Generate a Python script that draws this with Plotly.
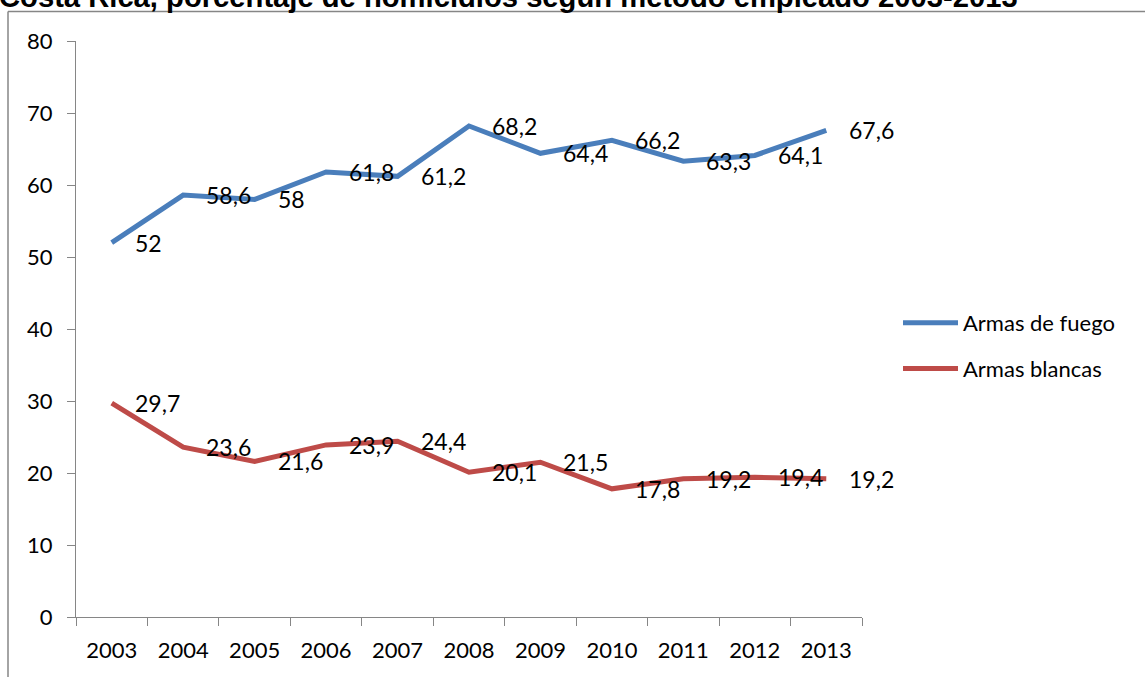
import plotly.graph_objects as go

years = ["2003", "2004", "2005", "2006", "2007", "2008", "2009", "2010", "2011", "2012", "2013"]
armas_fuego = [52, 58.6, 58, 61.8, 61.2, 68.2, 64.4, 66.2, 63.3, 64.1, 67.6]
armas_blancas = [29.7, 23.6, 21.6, 23.9, 24.4, 20.1, 21.5, 17.8, 19.2, 19.4, 19.2]
series_names = ["Armas de fuego", "Armas blancas"]
colors = ["#4A7EBB", "#BE4B48"]
title_text = "Costa Rica, porcentaje de homicidios según método empleado 2003-2013"

W, H = 1145, 677
L, R, T, B = 76, 862, 41, 617
pw, ph = R - L, B - T

def fmt(v):
    s = ("%g" % v)
    return s.replace(".", ",")

fig = go.Figure()
for name, vals, col in zip(series_names, [armas_fuego, armas_blancas], colors):
    fig.add_trace(go.Scatter(x=years, y=vals, name=name, mode="lines", legendgroup=name,
                             line=dict(color=col, width=5), cliponaxis=False))

annotations = []
for vals in [armas_fuego, armas_blancas]:
    for i, v in enumerate(vals):
        annotations.append(dict(x=i, y=v, xref="x", yref="y", text=fmt(v),
                                showarrow=False, xanchor="left", yanchor="middle",
                                xshift=21, font=dict(family="Lato", size=23, color="black")))

annotations.append(dict(x=(-3 - L) / pw, y=1, xref="paper", yref="paper",
                        xanchor="left", yanchor="bottom", yshift=26, showarrow=False,
                        text="<b>" + title_text + "</b>",
                        font=dict(family="Liberation Sans", size=29.2, color="black")))

fig.update_layout(
    width=W, height=H,
    margin=dict(l=L, r=W - R, t=T, b=H - B, pad=0),
    paper_bgcolor="white", plot_bgcolor="white",
    font=dict(family="Lato", size=22, color="black"),
    showlegend=True,
    legend=dict(x=(898 - L) / pw, y=(B - 302) / ph, xanchor="left", yanchor="top",
                font=dict(family="Lato", size=22, color="black"), traceorder="grouped",
                bgcolor="rgba(0,0,0,0)", itemwidth=55, tracegroupgap=14),
    xaxis=dict(type="category", range=[-0.5, 10.5], tickson="boundaries",
               ticks="outside", ticklen=8, tickcolor="#868686", showline=True,
               linecolor="#868686", linewidth=1, showgrid=False, zeroline=False,
               tickfont=dict(family="Lato", size=22), ticklabelstandoff=14),
    yaxis=dict(range=[0, 80], dtick=10, ticks="outside", ticklen=8, tickcolor="#868686",
               showline=True, linecolor="#868686", linewidth=1, showgrid=False,
               zeroline=False, tickfont=dict(family="Lato", size=22), ticklabelstandoff=10),
    annotations=annotations,
    shapes=[
        dict(type="line", xref="paper", yref="paper", x0=(8 - L) / pw, x1=(W + 10 - L) / pw,
             y0=(B - 11.5) / ph, y1=(B - 11.5) / ph, line=dict(color="#868686", width=1.5)),
        dict(type="line", xref="paper", yref="paper", x0=(8 - L) / pw, x1=(8 - L) / pw,
             y0=(B - 11.5) / ph, y1=(B - H - 10) / ph, line=dict(color="#868686", width=1.5)),
    ],
)

fig.write_html("out.html")
